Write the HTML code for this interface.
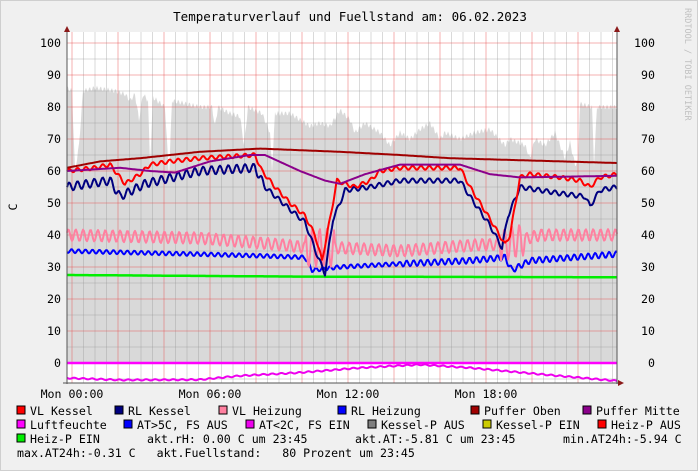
<!DOCTYPE html>
<html><head><meta charset="utf-8"><style>
html,body{margin:0;padding:0;background:#f0f0f0}
svg{display:block}
text{font-family:"DejaVu Sans Mono","Liberation Mono",monospace;font-size:11.6px;fill:#000}
</style></head><body>
<svg id="s" width="698" height="471" xmlns="http://www.w3.org/2000/svg">
<rect x="0" y="0" width="698" height="471" fill="#f0f0f0"/>
<rect x="0.5" y="0.5" width="697" height="470" fill="none" stroke="#cfcfcf"/>
<rect x="67" y="32" width="550" height="351" fill="#fff"/>
<g id="fill"></g>
<g id="grid"></g>
<g id="lines"></g>
<text x="350" y="21" text-anchor="middle" style="font-size:12.5px">Temperaturverlauf und Fuellstand am: 06.02.2023</text>
<text x="17" y="207" text-anchor="middle" transform="rotate(-90 17 207)">C</text>
<text x="685" y="8" transform="rotate(90 685 8)" style="font-size:8.5px;fill:#c0c0c0">RRDTOOL / TOBI OETIKER</text>
<g id="labels"></g>
<g id="legend"></g>
</svg>
<script>
const NS="http://www.w3.org/2000/svg";
function el(p,t,a,txt){const e=document.createElementNS(NS,t);for(const k in a)e.setAttribute(k,a[k]);if(txt!==undefined)e.textContent=txt;document.getElementById(p).appendChild(e);return e;}
const Y=v=>363-v*3.2;
// grid
for(let x=72-23*0.5;x<=617;x+=11.5){if(x<67)continue;const major=Math.abs(((x-72)/46)-Math.round((x-72)/46))<0.01;
 el("grid","line",{x1:x,y1:32,x2:x,y2:383,stroke:major?"rgba(230,80,80,0.45)":"rgba(150,150,150,0.35)","stroke-width":1});}
for(let v=-5;v<=100;v+=5){const y=Y(v);const major=v%10===0;
 el("grid","line",{x1:67,y1:y,x2:617,y2:y,stroke:major?"rgba(230,80,80,0.45)":"rgba(150,150,150,0.35)","stroke-width":1});
 if(major){el("labels","text",{x:61,y:y+4,"text-anchor":"end"},v);el("labels","text",{x:655,y:y+4,"text-anchor":"end"},v);}}
el("labels","line",{x1:67,y1:28,x2:67,y2:384,stroke:"#555"});
el("labels","line",{x1:617,y1:28,x2:617,y2:384,stroke:"#555"});
el("labels","line",{x1:63,y1:383,x2:621,y2:383,stroke:"#555"});
el("labels","polygon",{points:"64,32 70,32 67,26",fill:"#8b1a1a"});
el("labels","polygon",{points:"614,32 620,32 617,26",fill:"#8b1a1a"});
el("labels","polygon",{points:"618,380 618,386 624,383",fill:"#8b1a1a"});
[["Mon 00:00",72],["Mon 06:00",210],["Mon 12:00",348],["Mon 18:00",486]].forEach(([t,x])=>el("labels","text",{x:x,y:398,"text-anchor":"middle"},t));
function interp(k,x){for(let i=0;i<k.length-1;i++){if(x>=k[i][0]&&x<=k[i+1][0]){const t=(x-k[i][0])/(k[i+1][0]-k[i][0]||1);return k[i][1]+t*(k[i+1][1]-k[i][1]);}}return x<k[0][0]?k[0][1]:k[k.length-1][1];}
function series(k,osc,col,w,amp){let d="";for(let x=67;x<=617;x+=1){let v=interp(k,x);if(osc)v+=osc(x);d+=(x==67?"M":"L")+x+","+Y(v).toFixed(1);}
 el("lines","path",{d:d,fill:"none",stroke:col,"stroke-width":w||2,"stroke-linejoin":"round"});}
// fill level
const F=[[67,86],[72,85],[75,60],[79,68],[83,85],[95,86],[115,85],[125,84],[130,82],[135,84],[139,76],[143,84],[148,82],[150,62],[153,83],[165,80],[169,58],[172,82],[200,80],[212,80],[215,74],[218,80],[230,78],[240,77],[244,68],[248,80],[262,78],[270,72],[272,60],[275,78],[290,78],[300,76],[310,74],[320,75],[330,74],[340,79],[350,76],[355,72],[365,75],[380,72],[390,68],[400,72],[410,70],[420,73],[430,75],[440,70],[445,72],[460,70],[475,72],[490,73],[505,68],[510,70],[525,68],[530,64],[535,70],[545,68],[555,72],[565,64],[570,69],[575,62],[578,63],[580,81],[592,80],[594,62],[597,80],[615,80],[617,80]];
let d="M67,"+Y(0);for(let x=67;x<=617;x++){let v=interp(F,x)+Math.sin(x*1.7)*0.8;d+="L"+x+","+Y(v).toFixed(1);}d+="L617,"+Y(0)+"Z";
el("fill","path",{d:d,fill:"#d9d9d9"});
const sw=(a,p)=>x=>a*Math.sin(x*2*Math.PI/p);
series([[67,27.5],[300,27],[617,26.8]],null,"#00ee00",2.5);
series([[67,0],[617,0]],null,"#ff00ff",2.5);
series([[67,-4.7],[120,-5.3],[200,-5.2],[240,-4],[300,-3],[360,-1.5],[420,-0.5],[470,-1.5],[540,-3.5],[617,-5.6]],sw(0.2,9),"#ee00ee",2);
series([[67,35],[200,34],[260,33.5],[305,33],[312,29],[340,30],[400,31],[470,32],[505,33],[512,29],[530,32],[617,34]],x=>(x>400?0.9:0.6)*Math.sin(x*0.9),"#0000ff",2);
series([[67,40],[200,39],[280,37],[310,36],[340,36],[400,35],[480,37],[505,37],[540,40],[617,40]],x=>{let a=1.8;if(x>305&&x<335)a=6;if(x>500&&x<525)a=5;return a*Math.sin(x*0.85);},"#ff80a0",2);
series([[67,55],[110,57],[120,52],[145,56],[200,60],[255,61],[265,55],[290,48],[305,44],[318,33],[325,28],[333,45],[340,50],[345,54],[370,55],[400,57],[460,57],[470,52],[490,43],[502,36],[508,46],[520,55],[560,53],[585,52],[590,49],[600,54],[617,55]],x=>(x<265?1.3:0.7)*Math.sin(x*0.75),"#000080",2);
series([[67,60],[95,61],[110,62],[115,60],[125,56],[140,59],[150,62],[170,63],[200,64],[255,65],[262,60],[275,55],[290,50],[305,46],[315,40],[322,32],[330,45],[337,57],[345,56],[355,55],[370,57],[380,60],[400,61],[460,61],[470,55],[490,45],[505,37],[510,40],[520,58],[530,59],[560,58],[580,57],[590,55],[600,58],[617,59]],x=>0.6*Math.sin(x*0.75),"#ff0000",2);
series([[67,60],[120,61],[150,60],[175,59.5],[210,63],[250,65],[265,65],[300,60],[325,57],[340,56],[365,59],[400,62],[460,62],[490,59],[520,58],[617,58.5]],null,"#8b008b",2);
series([[67,61],[100,63],[140,64],[200,66],[260,67],[340,66],[400,65],[450,64],[617,62.5]],null,"#a00000",2);
// legend
const L=[[17,411,"#ff0000","VL Kessel"],[115,411,"#000080","RL Kessel"],[219,411,"#ff80a0","VL Heizung"],[338,411,"#0000ff","RL Heizung"],[471,411,"#a00000","Puffer Oben"],[583,411,"#8b008b","Puffer Mitte"],
[17,425,"#ff00ff","Luftfeuchte"],[124,425,"#0000ff","AT>5C, FS AUS"],[246,425,"#ee00ee","AT<2C, FS EIN"],[368,425,"#808080","Kessel-P AUS"],[483,425,"#cccc00","Kessel-P EIN"],[598,425,"#ff0000","Heiz-P AUS"],
[17,439,"#00ee00","Heiz-P EIN"]];
L.forEach(([x,y,c,t])=>{el("legend","rect",{x:x,y:y-5,width:8,height:8,fill:c,stroke:"#000","stroke-width":1});el("legend","text",{x:x+13,y:y+4},t);});
el("legend","text",{x:147,y:443,"xml:space":"preserve"},"akt.rH: 0.00 C um 23:45");
el("legend","text",{x:355,y:443,"xml:space":"preserve"},"akt.AT:-5.81 C um 23:45");
el("legend","text",{x:563,y:443},"min.AT24h:-5.94 C");
const t4=el("legend","text",{x:17,y:457},"max.AT24h:-0.31 C   akt.Fuellstand:   80 Prozent um 23:45");t4.setAttribute("style","white-space:pre");
</script>
</body></html>
